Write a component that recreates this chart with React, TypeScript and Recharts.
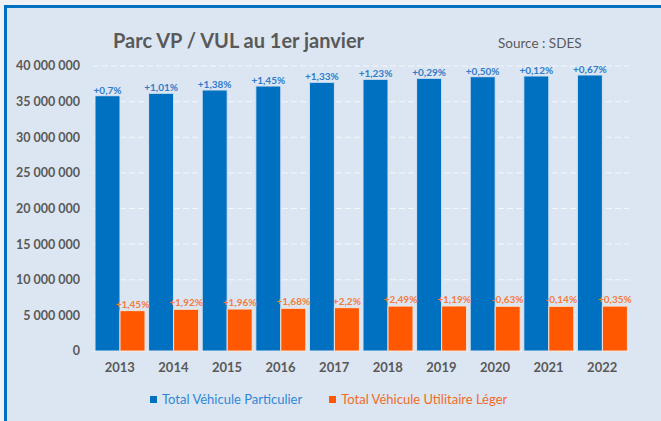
import React from 'react';
import { BarChart, Bar, XAxis, YAxis, CartesianGrid, LabelList } from 'recharts';

const years = ['2013', '2014', '2015', '2016', '2017', '2018', '2019', '2020', '2021', '2022'];
const vp = [35830000, 36170000, 36630000, 37190000, 37710000, 38130000, 38270000, 38500000, 38600000, 38740000];
const vul = [5660000, 5850000, 5890000, 5990000, 6080000, 6300000, 6320000, 6280000, 6270000, 6300000];
const vpGrowth = ['+0,7%', '+1,01%', '+1,38%', '+1,45%', '+1,33%', '+1,23%', '+0,29%', '+0,50%', '+0,12%', '+0,67%'];
const vulGrowth = ['+1,45%', '+1,92%', '+1,96%', '+1,68%', '+2,2%', '+2,49%', '+1,19%', '-0,63%', '-0,14%', '+0,35%'];
const yTicks = [0, 5000000, 10000000, 15000000, 20000000, 25000000, 30000000, 35000000, 40000000];

const BLUE = '#0070C0';
const ORANGE = '#FF5800';
const FONT = 'Lato, "Open Sans", sans-serif';

const data = years.map((year, i) => ({
  year,
  vp: vp[i],
  vul: vul[i],
  vpLabel: vpGrowth[i],
  vulLabel: vulGrowth[i],
}));

const fmt = (v: number) => String(v).replace(/\B(?=(\d{3})+(?!\d))/g, ' ');

const legendItems = [
  { name: 'Total Véhicule Particulier', color: BLUE, text: '#2f86d6' },
  { name: 'Total Véhicule Utilitaire Léger', color: ORANGE, text: '#f26a28' },
];

export default function App() {
  return (
    <div style={{ position: 'fixed', left: 0, top: 0, width: 661, height: 421, background: '#eef1f5', overflow: 'hidden' }}>
      {/* panel background and its blue top / left edges */}
      <div style={{ position: 'absolute', left: 4, top: 5, width: 657, height: 416, background: '#dce6f2' }} />
      <div style={{ position: 'absolute', left: 4, top: 5, width: 657, height: 3, background: BLUE }} />
      <div style={{ position: 'absolute', left: 4, top: 5, width: 3, height: 416, background: BLUE }} />
      <div style={{ position: 'absolute', left: 113, top: 28, fontFamily: FONT, fontWeight: 700, fontSize: 20, color: '#595959' }}>
        Parc VP / VUL au 1er janvier
      </div>
      <div style={{ position: 'absolute', left: 498, top: 35, fontFamily: FONT, fontSize: 13.5, color: '#595959' }}>
        Source : SDES
      </div>
      <div style={{ position: 'absolute', left: 0, top: 0 }}>
        <BarChart
          width={661}
          height={421}
          data={data}
          margin={{ top: 66, right: 32, bottom: 40, left: 13 }}
          barCategoryGap={2}
          barGap={0}
        >
          <CartesianGrid vertical={false} stroke="#f3f6fb" strokeDasharray="6 3" />
          <XAxis
            dataKey="year"
            height={30}
            axisLine={false}
            tickLine={false}
            tickSize={0}
            tickMargin={12}
            tick={{ fill: '#595959', fontSize: 13, fontWeight: 700, fontFamily: FONT }}
          />
          <YAxis
            width={80}
            domain={[0, 40000000]}
            ticks={yTicks}
            axisLine={false}
            tickLine={false}
            tickSize={0}
            tickMargin={13}
            tickFormatter={fmt}
            tick={{ fill: '#595959', fontSize: 12.5, fontWeight: 700, fontFamily: FONT }}
          />
          <Bar dataKey="vp" name="Total Véhicule Particulier" fill={BLUE} stroke="#d6e3f3" strokeWidth={1} isAnimationActive={false}>
            <LabelList dataKey="vpLabel" position="top" offset={2} fill="#2f7ccb" fontSize={10} fontWeight={700} fontFamily={FONT} />
          </Bar>
          <Bar dataKey="vul" name="Total Véhicule Utilitaire Léger" fill={ORANGE} stroke="#f3e2d8" strokeWidth={1} isAnimationActive={false}>
            <LabelList dataKey="vulLabel" position="top" offset={3} fill="#f47c3c" fontSize={10} fontWeight={700} fontFamily={FONT} />
          </Bar>
        </BarChart>
      </div>
      <div style={{ position: 'absolute', left: 150, top: 391, display: 'flex', fontFamily: FONT, fontSize: 13 }}>
        {legendItems.map((it) => (
          <div key={it.name} style={{ display: 'flex', alignItems: 'center', marginRight: 27 }}>
            <span style={{ width: 7, height: 7, background: it.color, display: 'inline-block', marginRight: 5 }} />
            <span style={{ color: it.text }}>{it.name}</span>
          </div>
        ))}
      </div>
    </div>
  );
}
